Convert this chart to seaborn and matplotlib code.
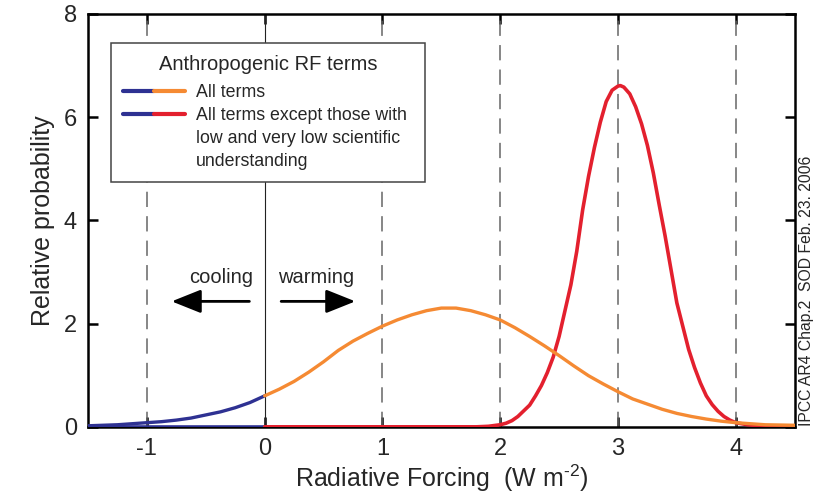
import numpy as np
import pandas as pd
import matplotlib
matplotlib.use("Agg")
import matplotlib.pyplot as plt
import seaborn as sns
from matplotlib.lines import Line2D
from matplotlib.legend_handler import HandlerTuple

# ---- data ----
x_all = [-1.5, -1.25, -1.0, -0.875, -0.75, -0.625, -0.5, -0.375, -0.25, -0.125, 0.0,
         0.125, 0.25, 0.375, 0.5, 0.625, 0.75, 0.875, 1.0, 1.125, 1.25, 1.375, 1.5,
         1.625, 1.75, 1.875, 2.0, 2.125, 2.25, 2.375, 2.5, 2.625, 2.75, 2.875, 3.0,
         3.125, 3.25, 3.375, 3.5, 3.625, 3.75, 3.875, 4.0, 4.25, 4.5]
p_all = [0.02, 0.04, 0.08, 0.10, 0.13, 0.17, 0.23, 0.29, 0.37, 0.47, 0.60,
         0.73, 0.88, 1.06, 1.26, 1.48, 1.66, 1.81, 1.95, 2.07, 2.17, 2.25, 2.30,
         2.30, 2.25, 2.17, 2.07, 1.92, 1.75, 1.57, 1.38, 1.18, 0.99, 0.83, 0.68,
         0.54, 0.44, 0.34, 0.26, 0.20, 0.15, 0.11, 0.08, 0.04, 0.03]

x_hi = [-1.5, -1.0, -0.5, 0.0, 0.5, 1.0, 1.5, 1.8, 1.9, 2.0, 2.05, 2.1, 2.15, 2.2,
        2.25, 2.3, 2.35, 2.4, 2.45, 2.5, 2.55, 2.6, 2.65, 2.7, 2.75, 2.8, 2.85, 2.9,
        2.95, 3.0, 3.02, 3.05, 3.1, 3.15, 3.2, 3.25, 3.3, 3.35, 3.4, 3.45, 3.5, 3.55,
        3.6, 3.65, 3.7, 3.75, 3.8, 3.85, 3.9, 3.95, 4.0, 4.1, 4.2, 4.3, 4.5]
p_hi = [0.0, 0.0, 0.0, 0.0, 0.0, 0.0, 0.0, 0.0, 0.01, 0.04, 0.07, 0.12, 0.20, 0.31,
        0.42, 0.60, 0.80, 1.05, 1.35, 1.75, 2.25, 2.75, 3.40, 4.20, 4.85, 5.41, 5.90, 6.30,
        6.52, 6.60, 6.61, 6.58, 6.45, 6.20, 5.87, 5.45, 4.92, 4.30, 3.70, 3.05, 2.40, 1.95,
        1.50, 1.15, 0.85, 0.60, 0.43, 0.30, 0.20, 0.13, 0.08, 0.04, 0.02, 0.01, 0.0]

x_ticks = [-1, 0, 1, 2, 3, 4]
y_ticks = [0, 2, 4, 6, 8]
dashed_x = [-1, 1, 2, 3, 4]

legend_title = "Anthropogenic RF terms"
label_all = "All terms"
label_hi_lines = ["All terms except those with", "low and very low scientific", "understanding"]

BLUE = "#2e3192"
ORANGE = "#f58a33"
RED = "#e3202e"

sns.set_theme(style="ticks")
plt.rcParams['font.family'] = ['Liberation Sans', 'DejaVu Sans']
plt.rcParams['axes.unicode_minus'] = False
plt.rcParams['mathtext.fontset'] = 'custom'
plt.rcParams['mathtext.rm'] = 'Liberation Sans'
plt.rcParams['mathtext.it'] = 'Liberation Sans'

df_all = pd.DataFrame({"x": x_all, "p": p_all})
df_hi = pd.DataFrame({"x": x_hi, "p": p_hi})

fig = plt.figure(figsize=(8.15, 4.94), dpi=100)
ax = fig.add_axes([0.108, 0.136, 0.867, 0.836])

for xv in dashed_x:
    ax.axvline(xv, color="#666666", lw=1.1, ls=(0, (10, 6)), zorder=1)
ax.axvline(0, color="#222222", lw=0.8, zorder=1)

sns.lineplot(data=df_hi[df_hi.x <= 0], x="x", y="p", color=BLUE, lw=2.6, ax=ax, zorder=3)
sns.lineplot(data=df_hi[df_hi.x >= 0], x="x", y="p", color=RED, lw=2.6, ax=ax, zorder=3)
sns.lineplot(data=df_all[df_all.x <= 0], x="x", y="p", color=BLUE, lw=2.4, ax=ax, zorder=4)
sns.lineplot(data=df_all[df_all.x >= 0], x="x", y="p", color=ORANGE, lw=2.4, ax=ax, zorder=4)

ax.set_xlim(-1.5, 4.5)
ax.set_ylim(0, 8)
ax.set_xticks(x_ticks)
ax.set_yticks(y_ticks)
ax.tick_params(direction="in", top=True, right=True, length=7, width=1.8,
               labelsize=17, pad=8, color="black")
for s in ax.spines.values():
    s.set_linewidth(1.8)
    s.set_color("black")

ax.set_xlabel("Radiative Forcing  (W m$^{\u20102}$)", fontsize=18, labelpad=2)
ax.set_ylabel("Relative probability", fontsize=18, labelpad=6)

# arrows and labels
ax.annotate("", xy=(-0.79, 2.43), xytext=(-0.13, 2.43),
            arrowprops=dict(arrowstyle="-|>,head_length=1.5,head_width=0.6",
                            color="black", lw=2.0, shrinkA=0, shrinkB=0))
ax.annotate("", xy=(0.77, 2.43), xytext=(0.14, 2.43),
            arrowprops=dict(arrowstyle="-|>,head_length=1.5,head_width=0.6",
                            color="black", lw=2.0, shrinkA=0, shrinkB=0))
ax.text(-0.37, 2.9, "cooling", ha="center", va="center", fontsize=14.5)
ax.text(0.44, 2.9, "warming", ha="center", va="center", fontsize=14.5)

# legend with split-colour handles; handle aligned to first text line
h_all = (Line2D([], [], color=BLUE, lw=3), Line2D([], [], color=ORANGE, lw=3))
h_hi = (Line2D([], [], color=BLUE, lw=3), Line2D([], [], color=RED, lw=3))
h_none = Line2D([], [], color="none", lw=0)
handles = [h_all, h_hi, h_none, h_none]
labels = [label_all] + label_hi_lines
leg = ax.legend(handles, labels, title=legend_title,
                handler_map={tuple: HandlerTuple(ndivide=None, pad=0)},
                loc="upper left", bbox_to_anchor=(0.0325, 0.604, 0.445, 0.326),
                mode="expand", borderaxespad=0, fontsize=12.8, title_fontsize=14.5,
                handlelength=3.5, handletextpad=0.6, frameon=True, fancybox=False,
                framealpha=1, edgecolor="#444444", labelspacing=0.33, borderpad=0.68)
leg._legend_box.sep = 7.5
leg.get_frame().set_linewidth(1.1)
leg.set_zorder(10)

fig.text(0.989, 0.137, "IPCC AR4 Chap.2  SOD Feb. 23. 2006", rotation=90,
         ha="center", va="bottom", fontsize=11.3)

fig.savefig("out.png", dpi=100)
